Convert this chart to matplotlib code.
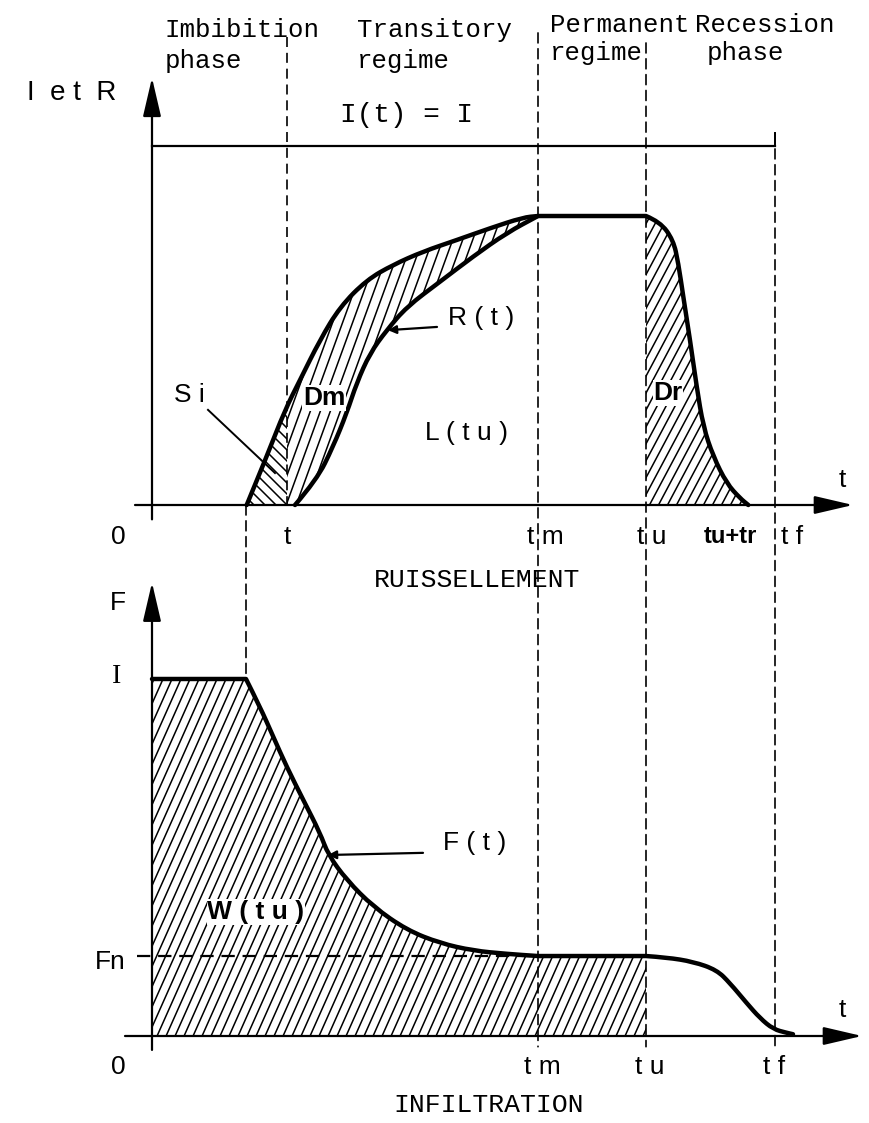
import numpy as np
import matplotlib.pyplot as plt
from matplotlib.collections import LineCollection
from matplotlib.patches import ConnectionPatch, PathPatch
from matplotlib.path import Path

# key times of the event (same time scale on both panels)
t_i = 9.4      # end of imbibition, runoff starts
t_s = 13.5     # t
t_m = 38.6     # tm
t_u = 49.4     # tu
t_r = 59.6     # tu + tr
t_f = 62.3     # tf

I_rate = 100.0
R_max = 80.5
F_n = 22.4

# rainfall excess (upper boundary of the storage zone)
t_excess = [9.47, 11.47, 13.3, 14.8, 16.8, 18.8, 21.47, 24.1, 27.1, 30.47, 33.8, 37.1, 38.6]
excess = [0, 13.5, 26.5, 34.8, 46.0, 55.2, 62.7, 66.9, 70.6, 73.8, 77.1, 80.1, 80.5]

# runoff R(t): rise, permanent regime, recession
t_rise = [14.3, 16.47, 18.1, 19.47, 20.47, 21.8, 23.47, 25.47, 28.8, 32.1, 35.47, 38.6]
rise = [0, 7.0, 16.2, 25.6, 34.0, 42.3, 48.7, 55.2, 62.2, 69.2, 75.8, 80.5]
t_rec = [49.4, 50.8, 52.13, 52.63, 53.13, 53.8, 54.47, 55.13, 56.13, 57.47, 58.8, 59.63]
rec = [80.5, 78.9, 73.8, 67.4, 58.0, 46.0, 32.9, 21.8, 13.5, 6.0, 1.9, 0]

# infiltration F(t)
t_infil = [0, 9.4, 10.8, 12.13, 13.47, 15.13, 16.8, 17.63, 19.47, 22.13, 25.47, 28.8,
           32.13, 35.47, 38.6, 49.4, 51.47, 54.13, 56.47, 57.8, 59.47, 60.8, 62.13, 63.47, 64.1]
infil = [100, 100, 92.2, 83.8, 75.4, 66.1, 56.9, 50.7, 43.7, 36.2, 29.7, 26.0,
         23.9, 23.0, 22.4, 22.4, 22.0, 20.8, 18.5, 14.8, 9.2, 5.0, 1.9, 0.9, 0.5]

phase_labels = [("Imbibition", "phase"), ("Transitory", "regime"),
                ("Permanent", "regime"), ("Recession", "phase")]

W_PX, H_PX = 869, 1123
SPLIT = 560

sans = "Liberation Sans"
mono = "Liberation Mono"
dash = (0, (6, 3.5))

fig = plt.figure(figsize=(W_PX / 100, H_PX / 100), dpi=100)
ax1 = fig.add_axes([0, 1 - SPLIT / H_PX, 1, SPLIT / H_PX])
ax2 = fig.add_axes([0, 0, 1, 1 - SPLIT / H_PX])
for ax in (ax1, ax2):
    ax.set_axis_off()
    ax.set_xlim(-15.2, 71.7)
ax1.set_ylim(-15.32, 140.67)
ax2.set_ylim(-24.37, 133.33)


def curve(ax, xs, ys, corners=(), lw=3.2):
    # quadratic bezier through the midpoints, sharp at the given indices
    pts = np.column_stack([xs, ys])
    verts, codes = [pts[0]], [Path.MOVETO]
    for k in range(1, len(pts) - 1):
        if k in corners:
            verts.append(pts[k])
            codes.append(Path.LINETO)
        else:
            verts += [pts[k], (pts[k] + pts[k + 1]) / 2]
            codes += [Path.CURVE3, Path.CURVE3]
    verts.append(pts[-1])
    codes.append(Path.LINETO)
    ax.add_patch(PathPatch(Path(verts, codes), facecolor="none", edgecolor="black",
                           lw=lw, capstyle="round", joinstyle="round"))


def hatch(ax, patch, angle, step=9.0, lw=1.1):
    # parallel lines across the axes, clipped to the patch
    bb = ax.get_position()
    w, h = bb.width * W_PX, bb.height * H_PX
    dx = h / np.tan(np.radians(angle))
    starts = np.arange(-abs(dx) - step, w + abs(dx) + step, step)
    segs = [[(x0 / w, 0), ((x0 + dx) / w, 1)] for x0 in starts]
    lc = LineCollection(segs, transform=ax.transAxes, colors="black", linewidths=lw)
    lc.set_clip_path(patch)
    ax.add_collection(lc, autolim=False)


def axis_arrow(ax, start, end):
    ax.annotate("", xy=end, xytext=start, annotation_clip=False,
                arrowprops=dict(arrowstyle="-|>,head_length=1.2,head_width=0.28",
                                lw=1.6, color="black", shrinkA=0, shrinkB=0,
                                mutation_scale=20))


def vline(x, yA, axA, yB, axB):
    cp = ConnectionPatch((x, yA), (x, yB), coordsA="data", coordsB="data",
                         axesA=axA, axesB=axB, color="black", lw=1.2, linestyle=dash)
    fig.add_artist(cp)


# ---------- runoff panel ----------
up_s = np.interp(t_s, t_excess, excess)

si_x = [t_i] + [x for x in t_excess if t_i < x < t_s] + [t_s, t_s]
si_y = [0] + [y for x, y in zip(t_excess, excess) if t_i < x < t_s] + [up_s, 0]
si_patch = ax1.fill(si_x, si_y, facecolor="none", edgecolor="none")[0]
hatch(ax1, si_patch, 135, step=11)

dm_x = [t_s] + [x for x in t_excess if x > t_s] + t_rise[::-1] + [t_s]
dm_y = [up_s] + [y for x, y in zip(t_excess, excess) if x > t_s] + rise[::-1] + [0]
dm_patch = ax1.fill(dm_x, dm_y, facecolor="none", edgecolor="none")[0]
hatch(ax1, dm_patch, 70, step=10)

dr_x = [t_u] + t_rec
dr_y = [0] + rec
dr_patch = ax1.fill(dr_x, dr_y, facecolor="none", edgecolor="none")[0]
hatch(ax1, dr_patch, 62, step=9)

curve(ax1, t_excess, excess)
curve(ax1, t_rise + t_rec, rise + rec, corners=(len(t_rise) - 1, len(t_rise)))
ax1.plot([0, t_f], [I_rate, I_rate], color="black", lw=1.6)
ax1.plot([t_f, t_f], [I_rate, 103.6], color="black", lw=1.4)

axis_arrow(ax1, (0, -4), (0, 119))
axis_arrow(ax1, (-1.7, 0), (70.1, 0))
ax1.plot([t_s, t_s], [130.4, 0], color="black", lw=1.2, linestyle=dash)

ax1.text(-8.05, 114.8, "I  e t  R", fontsize=20, family=sans, ha="center", va="center")
ax1.text(25.5, 108.6, "I(t) = I", fontsize=20, family=mono, ha="center", va="center")

for (top, bottom), x, yb in zip(phase_labels, [1.3, 20.5, 39.8, 54.3], [130.4, 130.4, 131.8, 131.8]):
    ax1.text(x, yb, top, fontsize=18.5, family=mono, ha="left", va="baseline")
for (top, bottom), x, yb in zip(phase_labels, [1.3, 20.5, 39.8, 55.5], [121.8, 121.8, 124.0, 124.0]):
    ax1.text(x, yb, bottom, fontsize=18.5, family=mono, ha="left", va="baseline")

for x, lab in [(-3.4, "0"), (t_s, "t"), (39.3, "t m"), (50.0, "t u"), (64.0, "t f")]:
    ax1.text(x, -8.9, lab, fontsize=19, family=sans, ha="center", va="center")
ax1.text(57.8, -8.9, "tu+tr", fontsize=17, family=sans, weight="bold", ha="center", va="center")
ax1.text(69.0, 7.0, "t", fontsize=19, family=sans, ha="center", va="center")

ax1.text(3.75, 30.6, "S i", fontsize=19, family=sans, ha="center", va="center")
ax1.plot([5.6, 12.3], [26.5, 8.9], color="black", lw=1.4)
ax1.text(17.2, 29.8, "Dm", fontsize=19, family=sans, weight="bold", ha="center", va="center",
         bbox=dict(facecolor="white", edgecolor="none", pad=0.5))
ax1.text(51.6, 31.2, "Dr", fontsize=19, family=sans, weight="bold", ha="center", va="center",
         bbox=dict(facecolor="white", edgecolor="none", pad=0.5))
ax1.text(31.5, 20.0, "L ( t u )", fontsize=19, family=sans, ha="center", va="center")
ax1.text(32.9, 52.1, "R ( t )", fontsize=19, family=sans, ha="center", va="center")
ax1.annotate("", xy=(23.6, 48.7), xytext=(28.5, 49.6),
             arrowprops=dict(arrowstyle="-|>", lw=1.6, color="black",
                             shrinkA=0, shrinkB=0, mutation_scale=12))
ax1.text(32.5, -20.9, "RUISSELLEMENT", fontsize=19, family=mono, ha="center", va="center")

# ---------- infiltration panel ----------
w_x = [0] + [x for x in t_infil if x <= t_u] + [t_u]
w_y = [0] + [y for x, y in zip(t_infil, infil) if x <= t_u] + [0]
w_patch = ax2.fill(w_x, w_y, facecolor="none", edgecolor="none")[0]
hatch(ax2, w_patch, 66, step=9)

curve(ax2, t_infil, infil, corners=(1, 14, 15))
ax2.plot([-1.5, t_m], [F_n, F_n], color="black", lw=1.6, linestyle=dash)

axis_arrow(ax2, (0, -3.9), (0, 127))
axis_arrow(ax2, (-2.7, 0), (71.0, 0))

ax2.text(-3.4, 121.3, "F", fontsize=19, family=sans, ha="center", va="center")
ax2.text(-3.5, 100.6, "I", fontsize=20, family="Liberation Serif", ha="center", va="center")
ax2.text(-4.2, 20.7, "Fn", fontsize=19, family=sans, ha="center", va="center")
for x, lab in [(-3.4, "0"), (39.0, "t m"), (49.8, "t u"), (62.2, "t f")]:
    ax2.text(x, -8.7, lab, fontsize=19, family=sans, ha="center", va="center")
ax2.text(69.0, 7.3, "t", fontsize=19, family=sans, ha="center", va="center")

ax2.text(32.3, 54.1, "F ( t )", fontsize=19, family=sans, ha="center", va="center")
ax2.annotate("", xy=(17.6, 50.7), xytext=(27.1, 51.3),
             arrowprops=dict(arrowstyle="-|>", lw=1.6, color="black",
                             shrinkA=0, shrinkB=0, mutation_scale=12))
ax2.text(10.4, 34.7, "W ( t u )", fontsize=19, family=sans, weight="bold", ha="center", va="center",
         bbox=dict(facecolor="white", edgecolor="none", pad=0.5))
ax2.text(33.7, -19.3, "INFILTRATION", fontsize=19, family=mono, ha="center", va="center")

# dashed guides running through both panels
vline(t_i, 0, ax1, I_rate, ax2)
vline(t_m, 131.5, ax1, -3, ax2)
vline(t_u, 128.7, ax1, -3, ax2)
vline(t_f, 103.6, ax1, -3, ax2)

fig.savefig("out.png", dpi=100, facecolor="white")
